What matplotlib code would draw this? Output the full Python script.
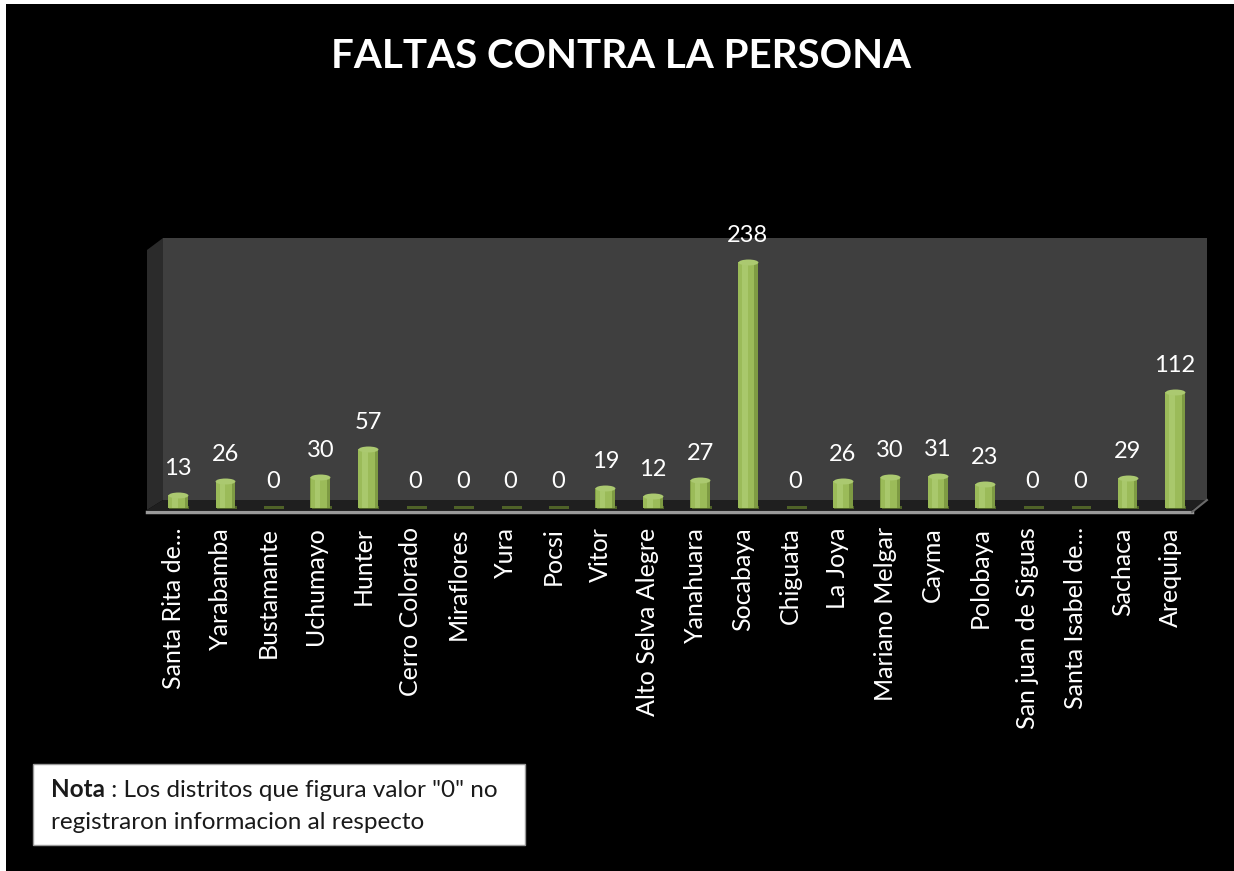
import matplotlib
matplotlib.use('Agg')
import matplotlib.pyplot as plt
from matplotlib.patches import Polygon, Rectangle
from matplotlib.path import Path
from matplotlib.transforms import ScaledTranslation
import numpy as np

districts = ['Santa Rita de...', 'Yarabamba', 'Bustamante', 'Uchumayo', 'Hunter',
             'Cerro Colorado', 'Miraflores', 'Yura', 'Pocsi', 'Vitor',
             'Alto Selva Alegre', 'Yanahuara', 'Socabaya', 'Chiguata', 'La Joya',
             'Mariano Melgar', 'Cayma', 'Polobaya', 'San juan de Siguas',
             'Santa Isabel de...', 'Sachaca', 'Arequipa']
faltas = [13, 26, 0, 30, 57, 0, 0, 0, 0, 19, 12, 27, 238, 0, 26, 30, 31, 23, 0, 0, 29, 112]

plt.rcParams['font.family'] = ['Lato', 'DejaVu Sans']

W, H = 1234, 871
fig = plt.figure(figsize=(W / 100, H / 100), dpi=100, facecolor='white')

# black background (thin white margin top/left like the source)
fig.patches.append(Rectangle((6 / W, 0), 1, 1 - 4 / H, transform=fig.transFigure,
                             facecolor='black', edgecolor='none', zorder=-2))


def px(x, y):
    # figure pixels -> axes fraction
    return ((x - 147) / 1045, (512 - y) / 274)


ax = fig.add_axes([147 / W, 1 - 512 / H, 1045 / W, 274 / H])
ax.set_facecolor('none')
for s in ax.spines.values():
    s.set_visible(False)

# 3d-ish walls and floor
walls = [
    ([(163, 238), (1207, 238), (1207, 500), (163, 500)], '#3f3f3f'),
    ([(147, 250), (163, 238), (163, 500), (147, 510)], '#2b2b2b'),
    ([(147, 510), (163, 500), (1207, 500), (1192, 510)], '#1f1f1f'),
]
for pts, c in walls:
    ax.add_patch(Polygon([px(*p) for p in pts], closed=True, transform=ax.transAxes,
                         facecolor=c, edgecolor='none', clip_on=False, zorder=0))
ax.plot([0, 1], [px(0, 512)[1]] * 2, transform=ax.transAxes, color='#9a9a9a',
        lw=2.5, clip_on=False, zorder=1)
ax.plot([1, px(1207, 0)[0]], [px(0, 512)[1], px(0, 500)[1]], transform=ax.transAxes,
        color='#6a6a6a', lw=1.5, clip_on=False, zorder=1)

x = np.arange(len(districts))
ax.set_xlim(-0.653, 21.358)
ax.set_ylim(-3.87, 261.1)

vals = np.array(faltas)
bw = 0.42
# flat footprints (visible for zero values)
ax.bar(x + 0.03, 2.0, bottom=-0.5, width=bw, color='#4f6228', zorder=2)
# cylinder body: darker right edge, main green, light highlight
ax.bar(x, vals, width=bw, color='#7e9b43', zorder=3)
ax.bar(x - 0.03, vals, width=bw * 0.82, color='#9bbb59', zorder=4)
ax.bar(x - 0.06, vals, width=bw * 0.28, color='#a9c86c', zorder=5)
# rounded top cap
cap = Path.unit_circle().transformed(matplotlib.transforms.Affine2D().scale(1, 0.3))
nz = vals > 0
ax.scatter(x[nz], vals[nz], s=205, marker=cap, color='#abc970', zorder=6,
           linewidths=0)

for xi, v in zip(x, vals):
    ax.annotate(str(v), (xi, v), xytext=(0, 19), textcoords='offset points',
                ha='center', va='center', color='white', fontsize=17, zorder=7)

ax.set_xticks(x, districts, rotation=90, color='white', fontsize=18)
ax.tick_params(axis='x', length=0, pad=11)
shift = ScaledTranslation(-5 / 100, 0, fig.dpi_scale_trans)
for lab in ax.get_xticklabels():
    lab.set_transform(lab.get_transform() + shift)
ax.set_yticks([])

fig.text(621 / W, 1 - 57 / H, 'FALTAS CONTRA LA PERSONA', ha='center', va='center',
         color='white', fontsize=29, fontweight='bold')

# note box
fig.patches.append(Rectangle((33 / W, 1 - 845 / H), 492 / W, 81 / H,
                             transform=fig.transFigure, facecolor='white',
                             edgecolor='#9a9a9a', lw=1, zorder=-1))
nota = fig.text(51 / W, 1 - 797 / H, 'Nota', fontweight='bold', fontsize=17.5,
                color='#1a1a1a', va='baseline', zorder=3)
ax.annotate(' : Los distritos que figura valor "0" no', xy=(1, 0), xycoords=nota,
            va='bottom', ha='left', fontsize=17.5, color='#1a1a1a',
            annotation_clip=False, zorder=3)
fig.text(51 / W, 1 - 829 / H, 'registraron informacion al respecto', fontsize=17.5,
         color='#1a1a1a', va='baseline', zorder=3)

fig.savefig('out.png', dpi=100, facecolor=fig.get_facecolor())
